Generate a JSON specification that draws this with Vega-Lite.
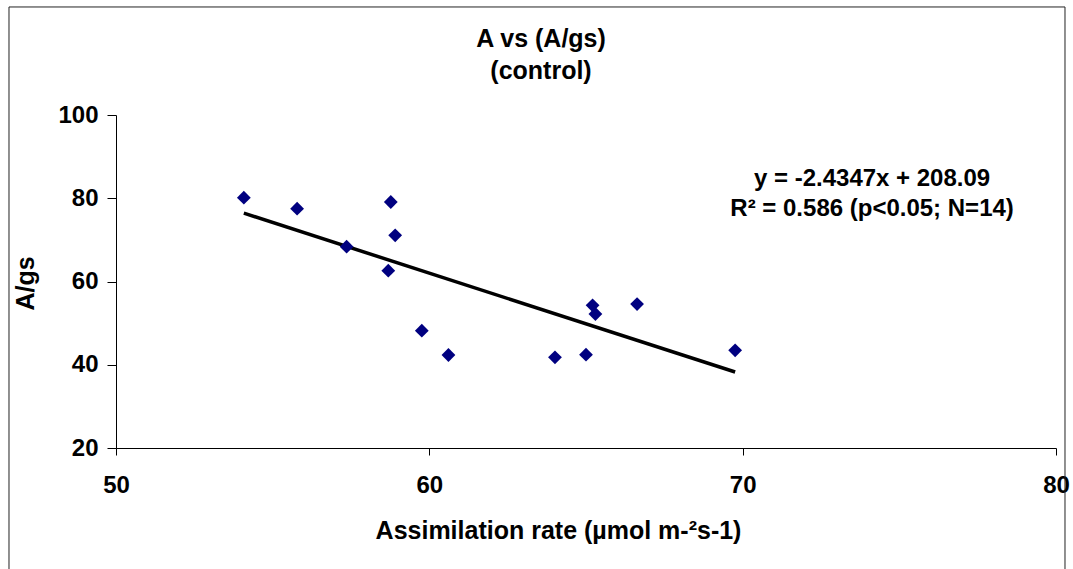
{
  "$schema": "https://vega.github.io/schema/vega-lite/v6.json",
  "width": 940,
  "height": 333,
  "autosize": "none",
  "padding": {"left": 116, "top": 115, "right": 17, "bottom": 121},
  "background": "white",
  "config": {"view": {"stroke": null}, "font": "Liberation Sans"},
  "title": {
    "text": ["A vs (A/gs)", "(control)"],
    "font": "Liberation Sans",
    "fontSize": 25,
    "fontWeight": "bold",
    "color": "black",
    "anchor": "middle",
    "frame": "group",
    "dx": -45,
    "lineHeight": 32,
    "offset": -78
  },
  "datasets": {
    "points": [
      {"x": 54.08, "y": 80.13},
      {"x": 55.78, "y": 77.49},
      {"x": 57.36, "y": 68.36},
      {"x": 58.77, "y": 79.10},
      {"x": 58.91, "y": 71.10},
      {"x": 58.69, "y": 62.59},
      {"x": 59.76, "y": 48.18},
      {"x": 60.61, "y": 42.34},
      {"x": 65.21, "y": 54.28},
      {"x": 65.30, "y": 52.19},
      {"x": 66.63, "y": 54.59},
      {"x": 64.01, "y": 41.79},
      {"x": 65.00, "y": 42.41},
      {"x": 69.76, "y": 43.47}
    ],
    "trend": [
      {"x": 54.08, "y": 76.42},
      {"x": 69.76, "y": 38.25}
    ],
    "labels": [
      {"x": 74.13, "y": 82.99, "label": "y = -2.4347x + 208.09"},
      {"x": 74.13, "y": 75.81, "label": "R² = 0.586 (p<0.05; N=14)"}
    ],
    "frame": [
      {"x": 46.585, "x2": 80.287, "y": 125.95, "y2": -12}
    ]
  },
  "encoding": {
    "x": {
      "field": "x",
      "type": "quantitative",
      "scale": {"domain": [50, 80], "nice": false, "zero": false},
      "axis": {
        "title": "Assimilation rate (µmol m-²s-1)",
        "values": [50, 60, 70, 80],
        "grid": false,
        "domainColor": "black",
        "domainWidth": 1,
        "tickColor": "black",
        "tickSize": 7,
        "labelFont": "Liberation Sans",
        "labelFontSize": 24,
        "labelFontWeight": "bold",
        "labelColor": "black",
        "labelPadding": 18,
        "labelFlush": false,
        "labelOverlap": false,
        "titleFont": "Liberation Sans",
        "titleFontSize": 25,
        "titleFontWeight": "bold",
        "titleColor": "black",
        "titleX": 442,
        "titleY": 90,
        "titleAlign": "center",
        "titleBaseline": "alphabetic"
      }
    },
    "y": {
      "field": "y",
      "type": "quantitative",
      "scale": {"domain": [20, 100], "nice": false, "zero": false},
      "axis": {
        "title": "A/gs",
        "values": [20, 40, 60, 80, 100],
        "grid": false,
        "domainColor": "black",
        "domainWidth": 1,
        "tickColor": "black",
        "tickSize": 9,
        "labelFont": "Liberation Sans",
        "labelFontSize": 24,
        "labelFontWeight": "bold",
        "labelColor": "black",
        "labelPadding": 9,
        "labelFlush": false,
        "labelOverlap": false,
        "titleFont": "Liberation Sans",
        "titleFontSize": 25,
        "titleFontWeight": "bold",
        "titleColor": "black",
        "titleAngle": 270,
        "titleX": -83,
        "titleY": 168,
        "titleAlign": "center",
        "titleBaseline": "alphabetic"
      }
    }
  },
  "layer": [
    {
      "data": {"name": "frame"},
      "mark": {"type": "rect", "fill": null, "stroke": "#222222", "strokeWidth": 1},
      "encoding": {
        "x2": {"field": "x2"},
        "y2": {"field": "y2"}
      }
    },
    {
      "data": {"name": "trend"},
      "mark": {"type": "line", "color": "black", "strokeWidth": 3.5}
    },
    {
      "data": {"name": "points"},
      "mark": {"type": "point", "shape": "diamond", "filled": true, "size": 190, "color": "#000080", "opacity": 1}
    },
    {
      "data": {"name": "labels"},
      "mark": {"type": "text", "font": "Liberation Sans", "fontSize": 24, "fontWeight": "bold", "color": "black", "align": "center", "baseline": "alphabetic"},
      "encoding": {"text": {"field": "label"}}
    }
  ]
}
